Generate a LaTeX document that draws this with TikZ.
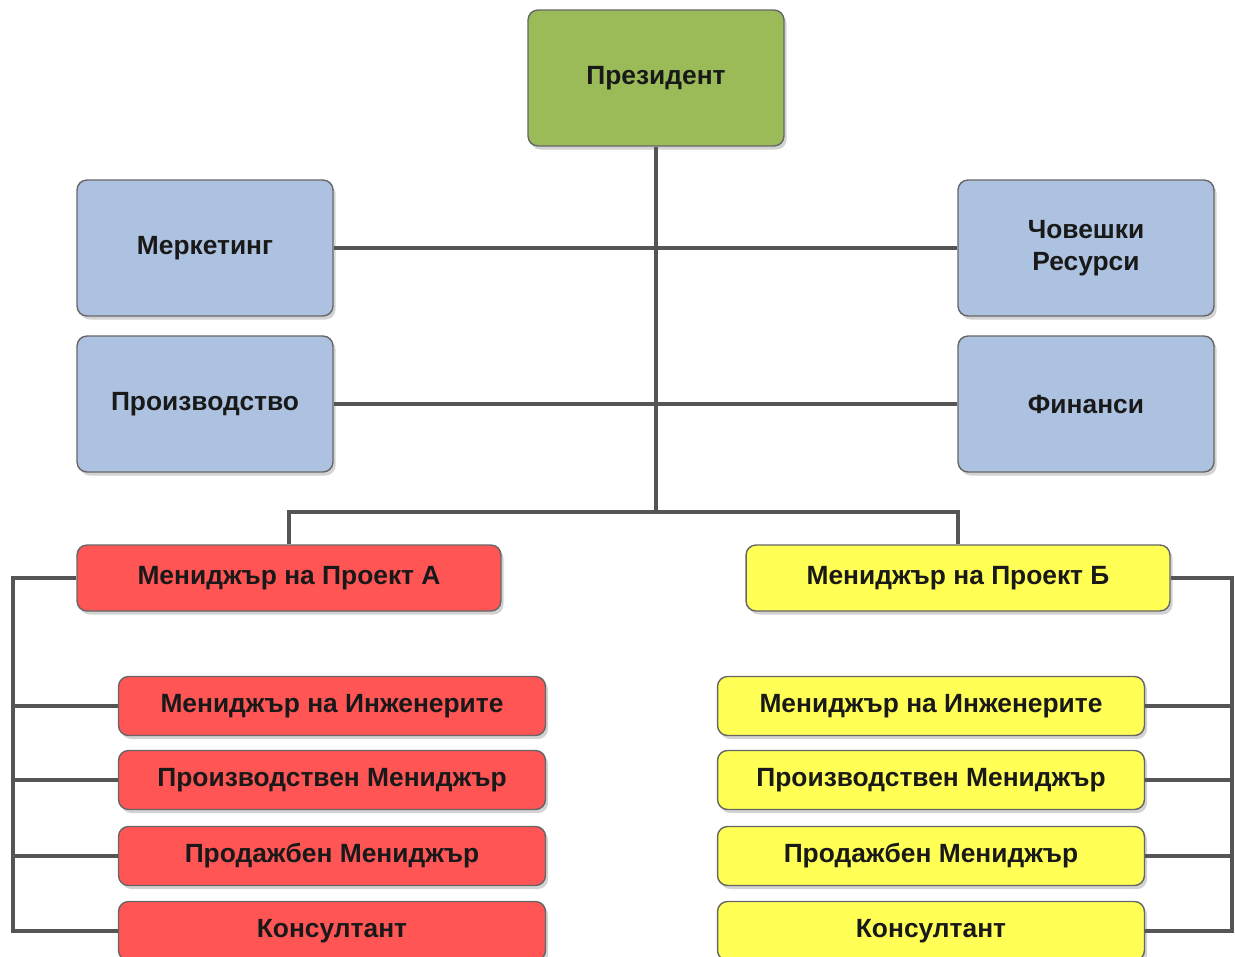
\documentclass[tikz,border=0pt]{standalone}
\usepackage{fontspec}
\setmainfont{Liberation Sans}
\usetikzlibrary{shadows}

\definecolor{bosscol}{HTML}{9BBB59}
\definecolor{deptcol}{HTML}{ADC2E0}
\definecolor{projacol}{HTML}{FF5555}
\definecolor{projbcol}{HTML}{FFFF55}
\definecolor{linecol}{HTML}{555555}
\definecolor{edgecol}{HTML}{666666}

\begin{document}
\begin{tikzpicture}[x=0.02cm, y=-0.02cm,
    font=\fontsize{15}{18.5}\selectfont\bfseries,
    box/.style={draw=edgecol, line width=0.8pt, rounded corners=0.2cm,
                text=black!90, align=center,
                drop shadow={shadow xshift=1.5pt, shadow yshift=-2pt, opacity=0.35}},
    bigbox/.style={box, minimum width=5.12cm, minimum height=2.72cm},
    projbox/.style={box, minimum width=8.48cm, minimum height=1.32cm},
    subbox/.style={box, minimum width=8.54cm, minimum height=1.18cm},
    conn/.style={draw=linecol, line width=2.8pt}]

    \useasboundingbox (0,0) rectangle (1235,957);
    \clip (0,0) rectangle (1235,957);

    % Top of the tree
    \node[bigbox, fill=bosscol] (pres) at (656,78)  {Президент};
    \node[bigbox, fill=deptcol] (mkt)  at (205,248) {Меркетинг};
    \node[bigbox, fill=deptcol] (prod) at (205,404) {Производство};
    \node[bigbox, fill=deptcol] (hr)   at (1086,248) {Човешки\\Ресурси};
    \node[bigbox, fill=deptcol] (fin)  at (1086,404) {Финанси};

    % Project managers
    \node[projbox, fill=projacol] (pma) at (289,578) {Мениджър на Проект А};
    \node[projbox, fill=projbcol] (pmb) at (958,578) {Мениджър на Проект Б};

    % Project A team
    \node[subbox, fill=projacol] (enga)  at (332,706) {Мениджър на Инженерите};
    \node[subbox, fill=projacol] (prma)  at (332,780) {Производствен Мениджър};
    \node[subbox, fill=projacol] (sala)  at (332,856) {Продажбен Мениджър};
    \node[subbox, fill=projacol] (cona)  at (332,931) {Консултант};

    % Project B team
    \node[subbox, fill=projbcol] (engb)  at (931,706) {Мениджър на Инженерите};
    \node[subbox, fill=projbcol] (prmb)  at (931,780) {Производствен Мениджър};
    \node[subbox, fill=projbcol] (salb)  at (931,856) {Продажбен Мениджър};
    \node[subbox, fill=projbcol] (conb)  at (931,931) {Консултант};

    % Junctions
    \coordinate (trunk) at (656,512);
    \coordinate (lrail) at (13,578);
    \coordinate (rrail) at (1232,578);

    % Connect the boxes
    \draw[conn] (pres.south) -- (trunk);
    \draw[conn] (mkt.east) -- (hr.west);
    \draw[conn] (prod.east) -- (fin.west);
    \draw[conn, line join=miter] (pma.north) |- (trunk) -| (pmb.north);

    \draw[conn, line join=miter] (pma.west) -- (lrail) |- (cona.west);
    \draw[conn] (lrail |- enga.west) -- (enga.west);
    \draw[conn] (lrail |- prma.west) -- (prma.west);
    \draw[conn] (lrail |- sala.west) -- (sala.west);

    \draw[conn, line join=miter] (pmb.east) -- (rrail) |- (conb.east);
    \draw[conn] (rrail |- engb.east) -- (engb.east);
    \draw[conn] (rrail |- prmb.east) -- (prmb.east);
    \draw[conn] (rrail |- salb.east) -- (salb.east);
\end{tikzpicture}
\end{document}
